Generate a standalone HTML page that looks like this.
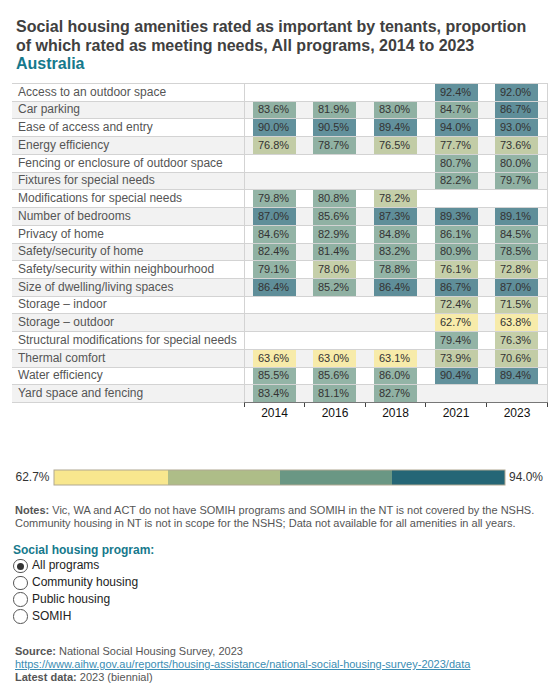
<!DOCTYPE html>
<html><head><meta charset="utf-8"><style>
html,body{margin:0;padding:0;background:#fff;}
body{width:560px;height:700px;position:relative;overflow:hidden;font-family:"Liberation Sans",sans-serif;color:#333;}
.a{position:absolute;}
.title{left:16px;white-space:nowrap;font-size:16px;font-weight:bold;line-height:18.4px;color:#404040;}
.title .loc{color:#16798c;}
.lab{font-size:12px;color:#555;white-space:nowrap;left:18px;}
.cell{font-size:11px;text-align:center;color:#333;}
.cell span{position:absolute;left:-1px;right:1px;top:0;}
.hl{height:1px;background:#d3d3d3;}
.vl{width:1px;background:#d3d3d3;}
.yr{font-size:12px;color:#111;text-align:center;width:60px;}
.note{left:15px;top:504.2px;font-size:11px;line-height:13px;color:#555;width:540px;}
.note b{color:#555;}
.prog{left:13px;top:543px;font-size:12px;font-weight:bold;color:#16798c;}
.radio{font-size:12px;color:#222;}
.rb{position:absolute;width:14.5px;height:14.5px;border:1px solid #555;border-radius:50%;box-sizing:border-box;background:#fff;}
.rb.on:after{content:"";position:absolute;left:2.75px;top:2.75px;width:7px;height:7px;border-radius:50%;background:#333;}
.src{left:15px;top:645px;font-size:11px;line-height:13px;color:#555;}
.src a{color:#3a8db3;text-decoration:underline;}
</style></head><body>

<div class="a title" style="top:18px">Social housing amenities rated as important by tenants, proportion</div>
<div class="a title" style="top:37px">of which rated as meeting needs, All programs, 2014 to 2023</div>
<div class="a title" style="top:55px"><span class="loc">Australia</span></div>
<div class="a cell" style="left:435px;top:84px;width:43px;height:17px;line-height:16px"><div class="a" style="left:0;top:0;right:0;bottom:0;background:#256676;opacity:0.72"></div><span>92.4%</span></div>
<div class="a cell" style="left:495px;top:84px;width:43px;height:17px;line-height:16px"><div class="a" style="left:0;top:0;right:0;bottom:0;background:#256676;opacity:0.72"></div><span>92.0%</span></div>
<div class="a lab" style="top:84px;line-height:16px">Access to an outdoor space</div>
<div class="a" style="left:12px;top:102px;width:535px;height:16px;background:#f2f2f2"></div>
<div class="a cell" style="left:253px;top:102px;width:43px;height:16px;line-height:15px"><div class="a" style="left:0;top:0;right:0;bottom:0;background:#6a9784;opacity:0.72"></div><span>83.6%</span></div>
<div class="a cell" style="left:313px;top:102px;width:43px;height:16px;line-height:15px"><div class="a" style="left:0;top:0;right:0;bottom:0;background:#6a9784;opacity:0.72"></div><span>81.9%</span></div>
<div class="a cell" style="left:374px;top:102px;width:43px;height:16px;line-height:15px"><div class="a" style="left:0;top:0;right:0;bottom:0;background:#6a9784;opacity:0.72"></div><span>83.0%</span></div>
<div class="a cell" style="left:435px;top:102px;width:43px;height:16px;line-height:15px"><div class="a" style="left:0;top:0;right:0;bottom:0;background:#6a9784;opacity:0.72"></div><span>84.7%</span></div>
<div class="a cell" style="left:495px;top:102px;width:43px;height:16px;line-height:15px"><div class="a" style="left:0;top:0;right:0;bottom:0;background:#256676;opacity:0.72"></div><span>86.7%</span></div>
<div class="a lab" style="top:102px;line-height:15px">Car parking</div>
<div class="a cell" style="left:253px;top:119px;width:43px;height:17px;line-height:16px"><div class="a" style="left:0;top:0;right:0;bottom:0;background:#256676;opacity:0.72"></div><span>90.0%</span></div>
<div class="a cell" style="left:313px;top:119px;width:43px;height:17px;line-height:16px"><div class="a" style="left:0;top:0;right:0;bottom:0;background:#256676;opacity:0.72"></div><span>90.5%</span></div>
<div class="a cell" style="left:374px;top:119px;width:43px;height:17px;line-height:16px"><div class="a" style="left:0;top:0;right:0;bottom:0;background:#256676;opacity:0.72"></div><span>89.4%</span></div>
<div class="a cell" style="left:435px;top:119px;width:43px;height:17px;line-height:16px"><div class="a" style="left:0;top:0;right:0;bottom:0;background:#256676;opacity:0.72"></div><span>94.0%</span></div>
<div class="a cell" style="left:495px;top:119px;width:43px;height:17px;line-height:16px"><div class="a" style="left:0;top:0;right:0;bottom:0;background:#256676;opacity:0.72"></div><span>93.0%</span></div>
<div class="a lab" style="top:119px;line-height:16px">Ease of access and entry</div>
<div class="a" style="left:12px;top:137px;width:535px;height:17px;background:#f2f2f2"></div>
<div class="a cell" style="left:253px;top:137px;width:43px;height:17px;line-height:16px"><div class="a" style="left:0;top:0;right:0;bottom:0;background:#aebd88;opacity:0.72"></div><span>76.8%</span></div>
<div class="a cell" style="left:313px;top:137px;width:43px;height:17px;line-height:16px"><div class="a" style="left:0;top:0;right:0;bottom:0;background:#6a9784;opacity:0.72"></div><span>78.7%</span></div>
<div class="a cell" style="left:374px;top:137px;width:43px;height:17px;line-height:16px"><div class="a" style="left:0;top:0;right:0;bottom:0;background:#aebd88;opacity:0.72"></div><span>76.5%</span></div>
<div class="a cell" style="left:435px;top:137px;width:43px;height:17px;line-height:16px"><div class="a" style="left:0;top:0;right:0;bottom:0;background:#aebd88;opacity:0.72"></div><span>77.7%</span></div>
<div class="a cell" style="left:495px;top:137px;width:43px;height:17px;line-height:16px"><div class="a" style="left:0;top:0;right:0;bottom:0;background:#aebd88;opacity:0.72"></div><span>73.6%</span></div>
<div class="a lab" style="top:137px;line-height:16px">Energy efficiency</div>
<div class="a cell" style="left:435px;top:155px;width:43px;height:17px;line-height:16px"><div class="a" style="left:0;top:0;right:0;bottom:0;background:#6a9784;opacity:0.72"></div><span>80.7%</span></div>
<div class="a cell" style="left:495px;top:155px;width:43px;height:17px;line-height:16px"><div class="a" style="left:0;top:0;right:0;bottom:0;background:#6a9784;opacity:0.72"></div><span>80.0%</span></div>
<div class="a lab" style="top:155px;line-height:16px">Fencing or enclosure of outdoor space</div>
<div class="a" style="left:12px;top:173px;width:535px;height:16px;background:#f2f2f2"></div>
<div class="a cell" style="left:435px;top:173px;width:43px;height:16px;line-height:15px"><div class="a" style="left:0;top:0;right:0;bottom:0;background:#6a9784;opacity:0.72"></div><span>82.2%</span></div>
<div class="a cell" style="left:495px;top:173px;width:43px;height:16px;line-height:15px"><div class="a" style="left:0;top:0;right:0;bottom:0;background:#6a9784;opacity:0.72"></div><span>79.7%</span></div>
<div class="a lab" style="top:173px;line-height:15px">Fixtures for special needs</div>
<div class="a cell" style="left:253px;top:190px;width:43px;height:17px;line-height:16px"><div class="a" style="left:0;top:0;right:0;bottom:0;background:#6a9784;opacity:0.72"></div><span>79.8%</span></div>
<div class="a cell" style="left:313px;top:190px;width:43px;height:17px;line-height:16px"><div class="a" style="left:0;top:0;right:0;bottom:0;background:#6a9784;opacity:0.72"></div><span>80.8%</span></div>
<div class="a cell" style="left:374px;top:190px;width:43px;height:17px;line-height:16px"><div class="a" style="left:0;top:0;right:0;bottom:0;background:#aebd88;opacity:0.72"></div><span>78.2%</span></div>
<div class="a lab" style="top:190px;line-height:16px">Modifications for special needs</div>
<div class="a" style="left:12px;top:208px;width:535px;height:17px;background:#f2f2f2"></div>
<div class="a cell" style="left:253px;top:208px;width:43px;height:17px;line-height:16px"><div class="a" style="left:0;top:0;right:0;bottom:0;background:#256676;opacity:0.72"></div><span>87.0%</span></div>
<div class="a cell" style="left:313px;top:208px;width:43px;height:17px;line-height:16px"><div class="a" style="left:0;top:0;right:0;bottom:0;background:#6a9784;opacity:0.72"></div><span>85.6%</span></div>
<div class="a cell" style="left:374px;top:208px;width:43px;height:17px;line-height:16px"><div class="a" style="left:0;top:0;right:0;bottom:0;background:#256676;opacity:0.72"></div><span>87.3%</span></div>
<div class="a cell" style="left:435px;top:208px;width:43px;height:17px;line-height:16px"><div class="a" style="left:0;top:0;right:0;bottom:0;background:#256676;opacity:0.72"></div><span>89.3%</span></div>
<div class="a cell" style="left:495px;top:208px;width:43px;height:17px;line-height:16px"><div class="a" style="left:0;top:0;right:0;bottom:0;background:#256676;opacity:0.72"></div><span>89.1%</span></div>
<div class="a lab" style="top:208px;line-height:16px">Number of bedrooms</div>
<div class="a cell" style="left:253px;top:226px;width:43px;height:17px;line-height:16px"><div class="a" style="left:0;top:0;right:0;bottom:0;background:#6a9784;opacity:0.72"></div><span>84.6%</span></div>
<div class="a cell" style="left:313px;top:226px;width:43px;height:17px;line-height:16px"><div class="a" style="left:0;top:0;right:0;bottom:0;background:#6a9784;opacity:0.72"></div><span>82.9%</span></div>
<div class="a cell" style="left:374px;top:226px;width:43px;height:17px;line-height:16px"><div class="a" style="left:0;top:0;right:0;bottom:0;background:#6a9784;opacity:0.72"></div><span>84.8%</span></div>
<div class="a cell" style="left:435px;top:226px;width:43px;height:17px;line-height:16px"><div class="a" style="left:0;top:0;right:0;bottom:0;background:#6a9784;opacity:0.72"></div><span>86.1%</span></div>
<div class="a cell" style="left:495px;top:226px;width:43px;height:17px;line-height:16px"><div class="a" style="left:0;top:0;right:0;bottom:0;background:#6a9784;opacity:0.72"></div><span>84.5%</span></div>
<div class="a lab" style="top:226px;line-height:16px">Privacy of home</div>
<div class="a" style="left:12px;top:244px;width:535px;height:16px;background:#f2f2f2"></div>
<div class="a cell" style="left:253px;top:244px;width:43px;height:16px;line-height:15px"><div class="a" style="left:0;top:0;right:0;bottom:0;background:#6a9784;opacity:0.72"></div><span>82.4%</span></div>
<div class="a cell" style="left:313px;top:244px;width:43px;height:16px;line-height:15px"><div class="a" style="left:0;top:0;right:0;bottom:0;background:#6a9784;opacity:0.72"></div><span>81.4%</span></div>
<div class="a cell" style="left:374px;top:244px;width:43px;height:16px;line-height:15px"><div class="a" style="left:0;top:0;right:0;bottom:0;background:#6a9784;opacity:0.72"></div><span>83.2%</span></div>
<div class="a cell" style="left:435px;top:244px;width:43px;height:16px;line-height:15px"><div class="a" style="left:0;top:0;right:0;bottom:0;background:#6a9784;opacity:0.72"></div><span>80.9%</span></div>
<div class="a cell" style="left:495px;top:244px;width:43px;height:16px;line-height:15px"><div class="a" style="left:0;top:0;right:0;bottom:0;background:#6a9784;opacity:0.72"></div><span>78.5%</span></div>
<div class="a lab" style="top:244px;line-height:15px">Safety/security of home</div>
<div class="a cell" style="left:253px;top:261px;width:43px;height:17px;line-height:16px"><div class="a" style="left:0;top:0;right:0;bottom:0;background:#6a9784;opacity:0.72"></div><span>79.1%</span></div>
<div class="a cell" style="left:313px;top:261px;width:43px;height:17px;line-height:16px"><div class="a" style="left:0;top:0;right:0;bottom:0;background:#aebd88;opacity:0.72"></div><span>78.0%</span></div>
<div class="a cell" style="left:374px;top:261px;width:43px;height:17px;line-height:16px"><div class="a" style="left:0;top:0;right:0;bottom:0;background:#6a9784;opacity:0.72"></div><span>78.8%</span></div>
<div class="a cell" style="left:435px;top:261px;width:43px;height:17px;line-height:16px"><div class="a" style="left:0;top:0;right:0;bottom:0;background:#aebd88;opacity:0.72"></div><span>76.1%</span></div>
<div class="a cell" style="left:495px;top:261px;width:43px;height:17px;line-height:16px"><div class="a" style="left:0;top:0;right:0;bottom:0;background:#aebd88;opacity:0.72"></div><span>72.8%</span></div>
<div class="a lab" style="top:261px;line-height:16px">Safety/security within neighbourhood</div>
<div class="a" style="left:12px;top:279px;width:535px;height:17px;background:#f2f2f2"></div>
<div class="a cell" style="left:253px;top:279px;width:43px;height:17px;line-height:16px"><div class="a" style="left:0;top:0;right:0;bottom:0;background:#256676;opacity:0.72"></div><span>86.4%</span></div>
<div class="a cell" style="left:313px;top:279px;width:43px;height:17px;line-height:16px"><div class="a" style="left:0;top:0;right:0;bottom:0;background:#6a9784;opacity:0.72"></div><span>85.2%</span></div>
<div class="a cell" style="left:374px;top:279px;width:43px;height:17px;line-height:16px"><div class="a" style="left:0;top:0;right:0;bottom:0;background:#256676;opacity:0.72"></div><span>86.4%</span></div>
<div class="a cell" style="left:435px;top:279px;width:43px;height:17px;line-height:16px"><div class="a" style="left:0;top:0;right:0;bottom:0;background:#256676;opacity:0.72"></div><span>86.7%</span></div>
<div class="a cell" style="left:495px;top:279px;width:43px;height:17px;line-height:16px"><div class="a" style="left:0;top:0;right:0;bottom:0;background:#256676;opacity:0.72"></div><span>87.0%</span></div>
<div class="a lab" style="top:279px;line-height:16px">Size of dwelling/living spaces</div>
<div class="a cell" style="left:435px;top:297px;width:43px;height:16px;line-height:15px"><div class="a" style="left:0;top:0;right:0;bottom:0;background:#aebd88;opacity:0.72"></div><span>72.4%</span></div>
<div class="a cell" style="left:495px;top:297px;width:43px;height:16px;line-height:15px"><div class="a" style="left:0;top:0;right:0;bottom:0;background:#aebd88;opacity:0.72"></div><span>71.5%</span></div>
<div class="a lab" style="top:297px;line-height:15px">Storage &ndash; indoor</div>
<div class="a" style="left:12px;top:314px;width:535px;height:17px;background:#f2f2f2"></div>
<div class="a cell" style="left:435px;top:314px;width:43px;height:17px;line-height:16px"><div class="a" style="left:0;top:0;right:0;bottom:0;background:#f8e78e;opacity:0.72"></div><span>62.7%</span></div>
<div class="a cell" style="left:495px;top:314px;width:43px;height:17px;line-height:16px"><div class="a" style="left:0;top:0;right:0;bottom:0;background:#f8e78e;opacity:0.72"></div><span>63.8%</span></div>
<div class="a lab" style="top:314px;line-height:16px">Storage &ndash; outdoor</div>
<div class="a cell" style="left:435px;top:332px;width:43px;height:17px;line-height:16px"><div class="a" style="left:0;top:0;right:0;bottom:0;background:#6a9784;opacity:0.72"></div><span>79.4%</span></div>
<div class="a cell" style="left:495px;top:332px;width:43px;height:17px;line-height:16px"><div class="a" style="left:0;top:0;right:0;bottom:0;background:#aebd88;opacity:0.72"></div><span>76.3%</span></div>
<div class="a lab" style="top:332px;line-height:16px">Structural modifications for special needs</div>
<div class="a" style="left:12px;top:350px;width:535px;height:17px;background:#f2f2f2"></div>
<div class="a cell" style="left:253px;top:350px;width:43px;height:17px;line-height:16px"><div class="a" style="left:0;top:0;right:0;bottom:0;background:#f8e78e;opacity:0.72"></div><span>63.6%</span></div>
<div class="a cell" style="left:313px;top:350px;width:43px;height:17px;line-height:16px"><div class="a" style="left:0;top:0;right:0;bottom:0;background:#f8e78e;opacity:0.72"></div><span>63.0%</span></div>
<div class="a cell" style="left:374px;top:350px;width:43px;height:17px;line-height:16px"><div class="a" style="left:0;top:0;right:0;bottom:0;background:#f8e78e;opacity:0.72"></div><span>63.1%</span></div>
<div class="a cell" style="left:435px;top:350px;width:43px;height:17px;line-height:16px"><div class="a" style="left:0;top:0;right:0;bottom:0;background:#aebd88;opacity:0.72"></div><span>73.9%</span></div>
<div class="a cell" style="left:495px;top:350px;width:43px;height:17px;line-height:16px"><div class="a" style="left:0;top:0;right:0;bottom:0;background:#aebd88;opacity:0.72"></div><span>70.6%</span></div>
<div class="a lab" style="top:350px;line-height:16px">Thermal comfort</div>
<div class="a cell" style="left:253px;top:368px;width:43px;height:16px;line-height:15px"><div class="a" style="left:0;top:0;right:0;bottom:0;background:#6a9784;opacity:0.72"></div><span>85.5%</span></div>
<div class="a cell" style="left:313px;top:368px;width:43px;height:16px;line-height:15px"><div class="a" style="left:0;top:0;right:0;bottom:0;background:#6a9784;opacity:0.72"></div><span>85.6%</span></div>
<div class="a cell" style="left:374px;top:368px;width:43px;height:16px;line-height:15px"><div class="a" style="left:0;top:0;right:0;bottom:0;background:#6a9784;opacity:0.72"></div><span>86.0%</span></div>
<div class="a cell" style="left:435px;top:368px;width:43px;height:16px;line-height:15px"><div class="a" style="left:0;top:0;right:0;bottom:0;background:#256676;opacity:0.72"></div><span>90.4%</span></div>
<div class="a cell" style="left:495px;top:368px;width:43px;height:16px;line-height:15px"><div class="a" style="left:0;top:0;right:0;bottom:0;background:#256676;opacity:0.72"></div><span>89.4%</span></div>
<div class="a lab" style="top:368px;line-height:15px">Water efficiency</div>
<div class="a" style="left:12px;top:385px;width:535px;height:17px;background:#f2f2f2"></div>
<div class="a cell" style="left:253px;top:385px;width:43px;height:17px;line-height:16px"><div class="a" style="left:0;top:0;right:0;bottom:0;background:#6a9784;opacity:0.72"></div><span>83.4%</span></div>
<div class="a cell" style="left:313px;top:385px;width:43px;height:17px;line-height:16px"><div class="a" style="left:0;top:0;right:0;bottom:0;background:#6a9784;opacity:0.72"></div><span>81.1%</span></div>
<div class="a cell" style="left:374px;top:385px;width:43px;height:17px;line-height:16px"><div class="a" style="left:0;top:0;right:0;bottom:0;background:#6a9784;opacity:0.72"></div><span>82.7%</span></div>
<div class="a lab" style="top:385px;line-height:16px">Yard space and fencing</div>
<div class="a hl" style="left:12px;top:83px;width:536px"></div>
<div class="a hl" style="left:12px;top:101px;width:536px"></div>
<div class="a hl" style="left:12px;top:118px;width:536px"></div>
<div class="a hl" style="left:12px;top:136px;width:536px"></div>
<div class="a hl" style="left:12px;top:154px;width:536px"></div>
<div class="a hl" style="left:12px;top:172px;width:536px"></div>
<div class="a hl" style="left:12px;top:189px;width:536px"></div>
<div class="a hl" style="left:12px;top:207px;width:536px"></div>
<div class="a hl" style="left:12px;top:225px;width:536px"></div>
<div class="a hl" style="left:12px;top:243px;width:536px"></div>
<div class="a hl" style="left:12px;top:260px;width:536px"></div>
<div class="a hl" style="left:12px;top:278px;width:536px"></div>
<div class="a hl" style="left:12px;top:296px;width:536px"></div>
<div class="a hl" style="left:12px;top:313px;width:536px"></div>
<div class="a hl" style="left:12px;top:331px;width:536px"></div>
<div class="a hl" style="left:12px;top:349px;width:536px"></div>
<div class="a hl" style="left:12px;top:367px;width:536px"></div>
<div class="a hl" style="left:12px;top:384px;width:536px"></div>
<div class="a hl" style="left:12px;top:402px;width:232px"></div>
<div class="a vl" style="left:244px;top:83px;height:319px"></div>
<div class="a vl" style="left:547px;top:83px;height:319px"></div>
<div class="a" style="left:244px;top:402px;width:304px;height:1px;background:#777"></div>
<div class="a" style="left:244px;top:403px;width:1px;height:4px;background:#444"></div>
<div class="a" style="left:304px;top:403px;width:1px;height:4px;background:#444"></div>
<div class="a" style="left:365px;top:403px;width:1px;height:4px;background:#444"></div>
<div class="a" style="left:425px;top:403px;width:1px;height:4px;background:#444"></div>
<div class="a" style="left:486px;top:403px;width:1px;height:4px;background:#444"></div>
<div class="a" style="left:547px;top:403px;width:1px;height:4px;background:#444"></div>
<div class="a yr" style="left:244.50px;top:406px">2014</div>
<div class="a yr" style="left:305.00px;top:406px">2016</div>
<div class="a yr" style="left:365.50px;top:406px">2018</div>
<div class="a yr" style="left:426.00px;top:406px">2021</div>
<div class="a yr" style="left:487.00px;top:406px">2023</div>
<div class="a" style="left:15.5px;top:470.3px;font-size:12px;color:#333">62.7%</div>
<div class="a" style="left:509px;top:470.3px;font-size:12px;color:#333">94.0%</div>
<svg class="a" style="left:0;top:460px" width="560" height="35" viewBox="0 460 560 35"><rect x="54" y="470" width="114" height="15" fill="#f8e78e"/><rect x="168" y="470" width="112" height="15" fill="#aebd88"/><rect x="280" y="470" width="112" height="15" fill="#6a9784"/><rect x="392" y="470" width="113" height="15" fill="#256676"/><rect x="54" y="470" width="451" height="15" fill="none" stroke="#b0a892" stroke-width="1"/></svg>
<div class="a note"><b>Notes:</b> Vic, WA and ACT do not have SOMIH programs and SOMIH in the NT is not covered by the NSHS.<br>Community housing in NT is not in scope for the NSHS; Data not available for all amenities in all years.</div>
<div class="a prog">Social housing program:</div>
<div class="rb on" style="left:13.1px;top:558.8px"></div>
<div class="a radio" style="left:32px;top:558.3px">All programs</div>
<div class="rb" style="left:13.1px;top:575.6px"></div>
<div class="a radio" style="left:32px;top:575.1px">Community housing</div>
<div class="rb" style="left:13.1px;top:592.4px"></div>
<div class="a radio" style="left:32px;top:591.9px">Public housing</div>
<div class="rb" style="left:13.1px;top:609.2px"></div>
<div class="a radio" style="left:32px;top:608.7px">SOMIH</div>
<div class="a src"><b>Source:</b> National Social Housing Survey, 2023<br><a>https://www.aihw.gov.au/reports/housing-assistance/national-social-housing-survey-2023/data</a><br><b>Latest data:</b> 2023 (biennial)</div>
</body></html>
